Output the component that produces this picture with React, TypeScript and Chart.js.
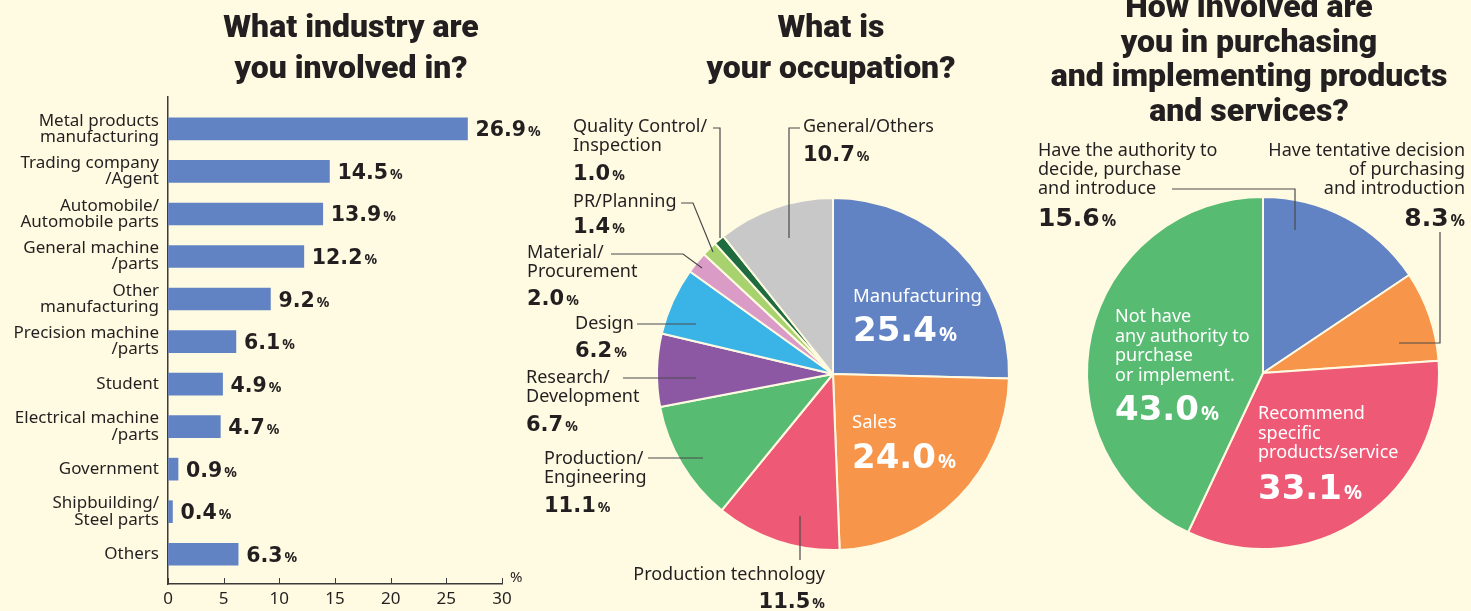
import React, { useEffect, useRef } from 'react';
import { Chart, registerables } from 'chart.js';

Chart.register(...registerables);

// ---------- data ----------
const industryLabels: string[][] = [
  ['Metal products', 'manufacturing'],
  ['Trading company', '/Agent'],
  ['Automobile/', 'Automobile parts'],
  ['General machine', '/parts'],
  ['Other', 'manufacturing'],
  ['Precision machine', '/parts'],
  ['Student'],
  ['Electrical machine', '/parts'],
  ['Government'],
  ['Shipbuilding/', 'Steel parts'],
  ['Others'],
];
const industryValues = [26.9, 14.5, 13.9, 12.2, 9.2, 6.1, 4.9, 4.7, 0.9, 0.4, 6.3];
const industryTicks = [0, 5, 10, 15, 20, 25, 30];

const occupationLabels: string[][] = [
  ['Manufacturing'],
  ['Sales'],
  ['Production technology'],
  ['Production/', 'Engineering'],
  ['Research/', 'Development'],
  ['Design'],
  ['Material/', 'Procurement'],
  ['PR/Planning'],
  ['Quality Control/', 'Inspection'],
  ['General/Others'],
];
const occupationValues = [25.4, 24.0, 11.5, 11.1, 6.7, 6.2, 2.0, 1.4, 1.0, 10.7];

const involvementLabels: string[][] = [
  ['Have the authority to', 'decide, purchase', 'and introduce'],
  ['Have tentative decision', 'of purchasing', 'and introduction'],
  ['Recommend', 'specific', 'products/service'],
  ['Not have', 'any authority to', 'purchase', 'or implement.'],
];
const involvementValues = [15.6, 8.3, 33.1, 43.0];

const titles = [
  ['What industry are', 'you involved in?'],
  ['What is', 'your occupation?'],
  ['How involved are', 'you in purchasing', 'and implementing products', 'and services?'],
];

// ---------- styles ----------
const W = 1471;
const H = 611;
const BG = '#FFFBE2';
const INK = '#231F20';
const AXIS = '#3a3a3a';
const LEADER = '#4a4a4a';
const BAR = '#6283C3';
const occupationColors = ['#6283C3', '#F7964A', '#EE5A75', '#58BB72', '#8C58A3', '#3AB4E6', '#DB9BC7', '#A8D26E', '#1E6B40', '#C8C8C9'];
const involvementColors = ['#6283C3', '#F7964A', '#EE5A75', '#58BB72'];
const LABEL_FONT = '"Noto Sans"';
const NUM_FONT = '"DejaVu Sans"';

type Pt = [number, number];
interface Ann {
  x: number; y: number; align: 'left' | 'right'; color: string; size: number; gap: number;
  numY: number; num: number; pct: number; leader?: Pt[];
}

// offsets relative to pie centre
const occupationAnn: Ann[] = [
  { x: 20, y: -77, align: 'left', color: '#fff', size: 18.5, gap: 19, numY: -45, num: 34, pct: 20 },
  { x: 19, y: 49, align: 'left', color: '#fff', size: 18.5, gap: 19, numY: 82, num: 34, pct: 20 },
  { x: -8, y: 201, align: 'right', color: INK, size: 18, gap: 19, numY: 226, num: 21, pct: 14, leader: [[-33, 142], [-33, 186]] },
  { x: -289, y: 85, align: 'left', color: INK, size: 18, gap: 19, numY: 130, num: 21, pct: 14, leader: [[-185, 84], [-130, 84]] },
  { x: -307, y: 4, align: 'left', color: INK, size: 18, gap: 19, numY: 49, num: 21, pct: 14, leader: [[-210, 4], [-137, 4]] },
  { x: -258, y: -50, align: 'left', color: INK, size: 18, gap: 19, numY: -25, num: 21, pct: 14, leader: [[-196, -50], [-137, -50]] },
  { x: -306, y: -121, align: 'left', color: INK, size: 18, gap: 19, numY: -77, num: 21, pct: 14, leader: [[-222, -120], [-150, -120], [-131, -106]] },
  { x: -260, y: -172, align: 'left', color: INK, size: 18, gap: 19, numY: -149, num: 21, pct: 14, leader: [[-152, -171], [-140, -171], [-120, -122]] },
  { x: -260, y: -247, align: 'left', color: INK, size: 18, gap: 19, numY: -202, num: 21, pct: 14, leader: [[-120, -246], [-113, -246], [-113, -136]] },
  { x: -30, y: -247, align: 'left', color: INK, size: 18, gap: 19, numY: -221, num: 21, pct: 14, leader: [[-33, -246], [-44, -246], [-44, -136]] },
];

const involvementAnn: Ann[] = [
  { x: -225, y: -222, align: 'left', color: INK, size: 18, gap: 19, numY: -156, num: 25, pct: 16, leader: [[-91, -184], [32, -184], [32, -143]] },
  { x: 202, y: -222, align: 'right', color: INK, size: 18, gap: 19, numY: -156, num: 25, pct: 16, leader: [[177, -141], [177, -30], [136, -30]] },
  { x: -5, y: 41, align: 'left', color: '#fff', size: 18, gap: 19.5, numY: 114, num: 34, pct: 20 },
  { x: -148, y: -56, align: 'left', color: '#fff', size: 18, gap: 19.5, numY: 35, num: 34, pct: 20 },
];

// ---------- drawing helpers ----------
function drawValue(ctx: CanvasRenderingContext2D, value: number, x: number, y: number, align: 'left' | 'right', numSize: number, pctSize: number, color: string) {
  const num = value.toFixed(1);
  const numFont = `bold ${numSize}px ${NUM_FONT}`;
  const pctFont = `bold ${pctSize}px ${LABEL_FONT}`;
  ctx.font = numFont;
  const nw = ctx.measureText(num).width;
  ctx.font = pctFont;
  const pw = ctx.measureText('%').width;
  const g = 2;
  const sx = align === 'left' ? x : x - nw - g - pw;
  const base = y + numSize * 0.365;
  ctx.textAlign = 'left';
  ctx.textBaseline = 'alphabetic';
  ctx.fillStyle = color;
  ctx.font = numFont;
  ctx.fillText(num, sx, base);
  ctx.font = pctFont;
  ctx.fillText('%', sx + nw + g, base);
}

function drawLines(ctx: CanvasRenderingContext2D, lines: string[], x: number, y: number, gap: number, align: 'left' | 'right', color: string, size: number) {
  ctx.font = `${size}px ${LABEL_FONT}`;
  ctx.fillStyle = color;
  ctx.textAlign = align;
  ctx.textBaseline = 'middle';
  lines.forEach((l, k) => ctx.fillText(l, x, y + k * gap));
}

function pieAnnotations(id: string, labels: string[][], values: number[], anns: Ann[]) {
  return {
    id,
    afterDatasetsDraw(chart: any) {
      const ctx: CanvasRenderingContext2D = chart.ctx;
      const arc = chart.getDatasetMeta(0).data[0];
      const cx = arc.x;
      const cy = arc.y;
      ctx.save();
      anns.forEach((a, i) => {
        if (a.leader) {
          ctx.strokeStyle = LEADER;
          ctx.lineWidth = 1.2;
          ctx.beginPath();
          a.leader.forEach((p, k) => (k === 0 ? ctx.moveTo(cx + p[0], cy + p[1]) : ctx.lineTo(cx + p[0], cy + p[1])));
          ctx.stroke();
        }
        drawLines(ctx, labels[i], cx + a.x, cy + a.y, a.gap, a.align, a.color, a.size);
        drawValue(ctx, values[i], cx + a.x, cy + a.numY, a.align, a.num, a.pct, a.color);
      });
      ctx.restore();
    },
  };
}

const barPlugin = {
  id: 'barLabels',
  afterDatasetsDraw(chart: any) {
    const ctx: CanvasRenderingContext2D = chart.ctx;
    const meta = chart.getDatasetMeta(0);
    const xs = chart.scales.x;
    const bottom = chart.chartArea.bottom;
    ctx.save();
    meta.data.forEach((bar: any, i: number) => {
      drawValue(ctx, industryValues[i], bar.x + 8, bar.y, 'left', 20.5, 14, INK);
    });
    ctx.strokeStyle = AXIS;
    ctx.lineWidth = 1;
    industryTicks.forEach((t) => {
      const px = Math.round(xs.getPixelForValue(t)) + 0.5;
      ctx.beginPath();
      ctx.moveTo(px, bottom);
      ctx.lineTo(px, bottom - 6);
      ctx.stroke();
    });
    ctx.font = `15px ${LABEL_FONT}`;
    ctx.fillStyle = INK;
    ctx.textAlign = 'left';
    ctx.textBaseline = 'middle';
    ctx.fillText('%', xs.right + 8, bottom - 6);
    ctx.restore();
  },
};

function makeBar(canvas: HTMLCanvasElement) {
  return new Chart(canvas, {
    type: 'bar',
    data: {
      datasets: [
        {
          data: industryValues.map((v, i) => ({ x: v, y: i })),
          backgroundColor: BAR,
          barThickness: 22,
          borderWidth: 0,
        },
      ],
    },
    options: {
      indexAxis: 'y',
      animation: false,
      responsive: true,
      maintainAspectRatio: false,
      events: [],
      layout: { padding: { top: 97, right: 969, left: 0, bottom: 0 } },
      plugins: { legend: { display: false }, tooltip: { enabled: false } },
      scales: {
        x: {
          type: 'linear',
          min: 0,
          max: 30,
          offset: false,
          afterBuildTicks: (scale: any) => {
            scale.ticks = industryTicks.map((v) => ({ value: v }));
          },
          afterFit: (scale: any) => {
            scale.height = 27;
          },
          grid: { display: true, drawOnChartArea: false, drawTicks: false, offset: false },
          border: { display: true, color: AXIS, width: 1.5 },
          ticks: { color: INK, font: { family: 'Noto Sans', size: 17 }, padding: 5, autoSkip: false, maxRotation: 0 },
        },
        y: {
          type: 'linear',
          reverse: true,
          min: -0.75,
          max: 10.7,
          offset: false,
          afterBuildTicks: (scale: any) => {
            scale.ticks = industryLabels.map((_, i) => ({ value: i }));
          },
          afterFit: (scale: any) => {
            scale.width = 168;
          },
          grid: { display: true, drawOnChartArea: false, drawTicks: false, offset: false },
          border: { display: true, color: AXIS, width: 1.5 },
          ticks: {
            color: INK,
            autoSkip: false,
            padding: 9,
            font: { family: 'Noto Sans', size: 17, lineHeight: 0.95 },
            callback: (v: any) => industryLabels[Math.round(Number(v))] || '',
          },
        },
      },
    } as any,
    plugins: [barPlugin as any],
  });
}

function makePie(canvas: HTMLCanvasElement, labels: string[][], values: number[], colors: string[], anns: Ann[], pad: any, id: string) {
  return new Chart(canvas, {
    type: 'pie',
    data: {
      labels: labels.map((l) => l.join(' ')),
      datasets: [{ data: values, backgroundColor: colors, borderColor: BG, borderWidth: 2 }],
    },
    options: {
      animation: false,
      responsive: true,
      maintainAspectRatio: false,
      events: [],
      layout: { padding: pad },
      plugins: { legend: { display: false }, tooltip: { enabled: false } },
    } as any,
    plugins: [pieAnnotations(id, labels, values, anns) as any],
  });
}

const layerStyle: React.CSSProperties = { position: 'absolute', left: 0, top: 0, width: W, height: H };

function Title({ lines, cx, top, lh }: { lines: string[]; cx: number; top: number; lh: number }) {
  return (
    <div
      style={{
        position: 'absolute',
        left: cx - 250,
        top,
        width: 500,
        textAlign: 'center',
        fontFamily: 'Roboto, "Noto Sans", sans-serif',
        fontWeight: 900,
        fontSize: 32,
        lineHeight: `${lh}px`,
        color: INK,
        whiteSpace: 'nowrap',
      }}
    >
      {lines.map((l, i) => (
        <div key={i}>{l}</div>
      ))}
    </div>
  );
}

export default function App() {
  const barRef = useRef<HTMLCanvasElement>(null);
  const pie1Ref = useRef<HTMLCanvasElement>(null);
  const pie2Ref = useRef<HTMLCanvasElement>(null);

  useEffect(() => {
    document.body.style.margin = '0';
    const charts: Chart[] = [];
    if (barRef.current) charts.push(makeBar(barRef.current));
    if (pie1Ref.current)
      charts.push(makePie(pie1Ref.current, occupationLabels, occupationValues, occupationColors, occupationAnn, { left: 656, right: W - 1010, top: 197, bottom: H - 551 }, 'occAnn'));
    if (pie2Ref.current)
      charts.push(makePie(pie2Ref.current, involvementLabels, involvementValues, involvementColors, involvementAnn, { left: 1086, right: W - 1440, top: 196, bottom: H - 550 }, 'invAnn'));
    return () => charts.forEach((c) => c.destroy());
  }, []);

  return (
    <div style={{ position: 'absolute', left: 0, top: 0, width: W, height: H, background: BG, overflow: 'hidden' }}>
      <div style={layerStyle}>
        <canvas ref={barRef} />
      </div>
      <div style={layerStyle}>
        <canvas ref={pie1Ref} />
      </div>
      <div style={layerStyle}>
        <canvas ref={pie2Ref} />
      </div>
      <Title lines={titles[0]} cx={351} top={6} lh={41} />
      <Title lines={titles[1]} cx={831} top={6} lh={41} />
      <Title lines={titles[2]} cx={1249} top={-11} lh={34.5} />
    </div>
  );
}
